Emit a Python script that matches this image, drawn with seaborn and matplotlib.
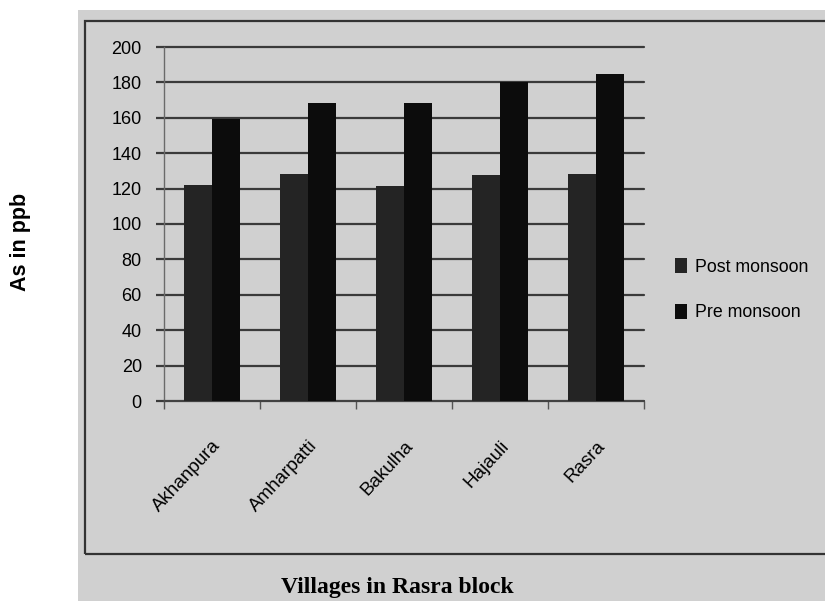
import matplotlib
matplotlib.use("Agg")
import matplotlib.pyplot as plt
from matplotlib.patches import Rectangle
from matplotlib.ticker import FixedLocator
import pandas as pd
import seaborn as sns

villages = ["Akhanpura", "Amharpatti", "Bakulha", "Hajauli", "Rasra"]
post_monsoon = [122, 128, 121.5, 127.5, 128.5]
pre_monsoon = [159.5, 168.5, 168.5, 180, 185]
seasons = ["Post monsoon", "Pre monsoon"]
y_ticks = [0, 20, 40, 60, 80, 100, 120, 140, 160, 180, 200]

df = pd.DataFrame({
    "village": villages * 2,
    "arsenic": post_monsoon + pre_monsoon,
    "season": [seasons[0]] * len(villages) + [seasons[1]] * len(villages),
})

sns.set_style("white")
plt.rcParams["font.family"] = ["Liberation Sans", "DejaVu Sans"]
plt.rcParams["text.color"] = "black"

W, H = 825, 601
fig = plt.figure(figsize=(W / 100, H / 100), dpi=100)
fig.patch.set_facecolor("white")

# grey chart panel and its inner frame
fig.add_artist(Rectangle((78 / W, 0), (W - 78) / W, (H - 10) / H,
                         transform=fig.transFigure, facecolor="#d0d0d0",
                         edgecolor="none", zorder=-10))
fig.add_artist(Rectangle((85 / W, (H - 554) / H), (W - 85 + 20) / W, (554 - 21) / H,
                         transform=fig.transFigure, fill=False,
                         edgecolor="#333333", lw=1.6, zorder=-5))

ax = fig.add_axes([164 / W, (H - 401) / H, (644 - 164) / W, (401 - 47) / H])
ax.set_facecolor("none")

sns.barplot(data=df, x="village", y="arsenic", hue="season",
            palette={seasons[0]: "#242424", seasons[1]: "#0c0c0c"},
            width=0.58, gap=0, saturation=1, linewidth=0, ax=ax, zorder=3)

ax.set_ylim(0, 200)
ax.set_xlim(-0.5, len(villages) - 0.5)
ax.set_yticks(y_ticks)
ax.set_yticklabels([str(v) for v in y_ticks], fontsize=13, color="black")
ax.yaxis.grid(True, color="#3a3a3a", lw=1.6, zorder=0)
for gl in ax.get_ygridlines():
    gl.set_clip_on(False)
ax.set_axisbelow(True)
ax.tick_params(axis="y", which="major", direction="out", length=6,
               width=1.6, color="#3a3a3a", pad=10, left=True)

# category labels at bar centres, tick marks at category boundaries
ax.tick_params(axis="x", which="major", length=0, pad=26)
ax.xaxis.set_minor_locator(FixedLocator([i - 0.5 for i in range(len(villages) + 1)]))
ax.tick_params(axis="x", which="minor", direction="out", length=6,
               width=1, color="#555555", bottom=True)
for lab in ax.get_xticklabels():
    lab.set_rotation(47)
    lab.set_ha("right")
    lab.set_va("top")
    lab.set_rotation_mode("anchor")
    lab.set_fontsize(13.5)
    lab.set_color("black")

for side in ["top", "right"]:
    ax.spines[side].set_visible(False)
ax.spines["left"].set_color("#6a6a6a")
ax.spines["left"].set_linewidth(1.0)
ax.spines["bottom"].set_color("#444444")
ax.spines["bottom"].set_linewidth(1.2)
ax.set_xlabel("")
ax.set_ylabel("")

handles, labels = ax.get_legend_handles_labels()
ax.legend_.remove()
fig.legend(handles, labels, loc="upper left",
           bbox_to_anchor=(675 / W, 1 - 258 / H), frameon=False,
           borderpad=0, borderaxespad=0, handlelength=0.7, handleheight=0.9,
           handletextpad=0.45, labelspacing=1.6, fontsize=12.8)

fig.text(21 / W, 1 - 242 / H, "As in ppb", rotation=90, fontsize=15.5,
         fontweight="bold", ha="center", va="center")
fig.text(397 / W, 1 - 587 / H, "Villages in Rasra block", fontsize=17,
         fontweight="bold", family=["Liberation Serif", "DejaVu Serif"],
         ha="center", va="center")

fig.savefig("out.png", dpi=100)
